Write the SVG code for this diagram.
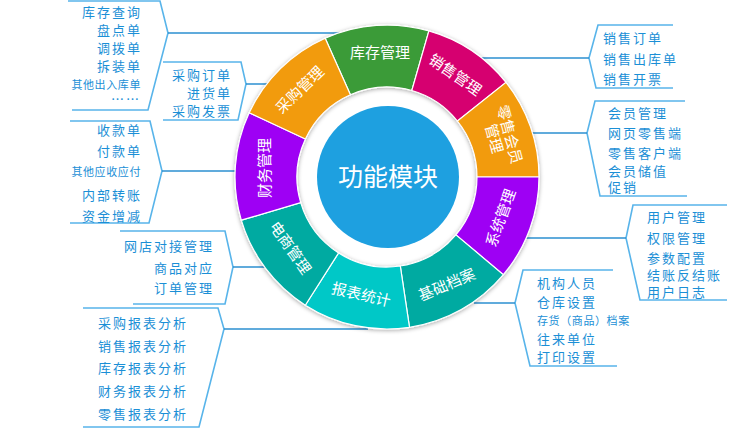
<svg xmlns="http://www.w3.org/2000/svg" width="729" height="429" viewBox="0 0 729 429">
<defs>
<style>
.seg{stroke:#fff;stroke-width:1.2}
.sl{fill:#fff;font-family:"Noto Sans CJK SC","Noto Sans",sans-serif;font-size:15px;text-anchor:middle}
.lb{fill:#1b8fd6;font-family:"Noto Sans CJK SC","Noto Sans",sans-serif;font-size:13px;letter-spacing:2px}
.sm{font-size:11px;letter-spacing:0.6px}
.e{text-anchor:end}
.br{fill:none;stroke:#58b4ea;stroke-width:1.6;stroke-linejoin:miter}
.cn{fill:none;stroke:#2b8fd0;stroke-width:1.5}
</style>
<filter id="sh" x="-10%" y="-10%" width="120%" height="120%"><feDropShadow dx="0" dy="1" stdDeviation="2" flood-color="#000" flood-opacity="0.35"/></filter>
</defs>
<rect width="729" height="429" fill="#fff"/>

<g id="connectors">
<polyline class="br" points="68,1 160,1 168,33 148,110 72,110"/>
<line class="cn" x1="168" y1="33" x2="339" y2="33"/>
<polyline class="br" points="163,62 241,62 246,84 238,120 163,120"/>
<line class="cn" x1="246" y1="84" x2="268" y2="84"/>
<polyline class="br" points="70,121 150,121 162,171 149,223 70,223"/>
<line class="cn" x1="162" y1="171" x2="236" y2="171"/>
<polyline class="br" points="120,231 225,231 233,267 225,304 133,304"/>
<line class="cn" x1="233" y1="267" x2="266" y2="267"/>
<polyline class="br" points="83,308 218,308 224,329 199,427 83,427"/>
<line class="cn" x1="224" y1="329" x2="368" y2="329"/>
<polyline class="br" points="673,25 598,25 589,58 596,88 673,88"/>
<line class="cn" x1="589" y1="58" x2="481" y2="58"/>
<polyline class="br" points="685,101 595,101 587,133 600,196 687,196"/>
<line class="cn" x1="587" y1="133" x2="531" y2="133"/>
<polyline class="br" points="727,205 633,205 626,238 640,300 727,300"/>
<line class="cn" x1="626" y1="238" x2="525" y2="238"/>
<polyline class="br" points="613,270 523,270 515,303 530,366 617,366"/>
<line class="cn" x1="515" y1="303" x2="474" y2="303"/>
</g>

<g id="ring" filter="url(#sh)">
<g id="kucun"><path class="seg" fill="#3a9b37" d="M325.2,38.2 A152,152 0 0 1 428.9,30.9 L411.8,90.5 A90,90 0 0 0 350.4,94.8 Z"/></g>
<g id="xiaoshou"><path class="seg" fill="#d6006f" d="M428.9,30.9 A152,152 0 0 1 506.0,82.4 L457.4,121.0 A90,90 0 0 0 411.8,90.5 Z"/></g>
<g id="lingshou"><path class="seg" fill="#f29b10" d="M506.0,82.4 A152,152 0 0 1 539,177 L477,177 A90,90 0 0 0 457.4,121.0 Z"/></g>
<g id="xitong"><path class="seg" fill="#9e00f4" d="M539,177 A152,152 0 0 1 503.4,274.7 L455.9,234.9 A90,90 0 0 0 477,177 Z"/></g>
<g id="jichu"><path class="seg" fill="#00aaa1" d="M503.4,274.7 A152,152 0 0 1 409.5,327.3 L400.3,266.0 A90,90 0 0 0 455.9,234.9 Z"/></g>
<g id="baobiao"><path class="seg" fill="#00c8c7" d="M409.5,327.3 A152,152 0 0 1 305.3,305.2 L338.6,252.9 A90,90 0 0 0 400.3,266.0 Z"/></g>
<g id="dianshang"><path class="seg" fill="#00aaa1" d="M305.3,305.2 A152,152 0 0 1 241.3,220.2 L300.7,202.6 A90,90 0 0 0 338.6,252.9 Z"/></g>
<g id="caiwu"><path class="seg" fill="#9e00f4" d="M241.3,220.2 A152,152 0 0 1 249.2,112.8 L305.4,139.0 A90,90 0 0 0 300.7,202.6 Z"/></g>
<g id="caigou"><path class="seg" fill="#f29b10" d="M249.2,112.8 A152,152 0 0 1 325.2,38.2 L350.4,94.8 A90,90 0 0 0 305.4,139.0 Z"/></g>
</g>

<g id="seg-labels">
<text class="sl" transform="translate(380,53)" y="5">库存管理</text>
<text class="sl" transform="translate(455,75) rotate(35)" y="5">销售管理</text>
<text class="sl" transform="translate(501.5,136.5) rotate(75)"><tspan x="0" y="-3">零售会员</tspan><tspan x="0" y="13">管理</tspan></text>
<text class="sl" transform="translate(501,218) rotate(-70)" y="5">系统管理</text>
<text class="sl" transform="translate(447,285) rotate(-23)" y="5">基础档案</text>
<text class="sl" transform="translate(361,295) rotate(13)" y="5">报表统计</text>
<text class="sl" transform="translate(290,248) rotate(55)" y="5">电商管理</text>
<text class="sl" transform="translate(265,168) rotate(-90)" y="5">财务管理</text>
<text class="sl" transform="translate(300,90) rotate(-44)" y="5">采购管理</text>
</g>

<g id="center">
<circle cx="388" cy="177" r="71" fill="#1ea0e0"/>
<text x="388" y="186" fill="#fff" font-family="Noto Sans CJK SC, Noto Sans, sans-serif" font-size="25" text-anchor="middle">功能模块</text>
</g>

<g id="list-kucun">
<text class="lb e" x="142" y="17">库存查询</text>
<text class="lb e" x="142" y="35">盘点单</text>
<text class="lb e" x="142" y="53">调拨单</text>
<text class="lb e" x="142" y="71">拆装单</text>
<text class="lb e sm" x="141" y="89">其他出入库单</text>
<text class="lb e" x="141" y="104" font-size="9" letter-spacing="0">……</text>
</g>
<g id="list-caigou">
<text class="lb e" x="232" y="80">采购订单</text>
<text class="lb e" x="232" y="98">进货单</text>
<text class="lb e" x="232" y="116">采购发票</text>
</g>
<g id="list-caiwu">
<text class="lb e" x="142" y="135">收款单</text>
<text class="lb e" x="142" y="156">付款单</text>
<text class="lb e sm" x="141" y="176">其他应收应付</text>
<text class="lb e" x="142" y="200">内部转账</text>
<text class="lb e" x="142" y="221">资金增减</text>
</g>
<g id="list-dianshang">
<text class="lb e" x="214" y="251">网店对接管理</text>
<text class="lb e" x="214" y="273">商品对应</text>
<text class="lb e" x="214" y="293">订单管理</text>
</g>
<g id="list-baobiao">
<text class="lb" x="98" y="328">采购报表分析</text>
<text class="lb" x="98" y="351">销售报表分析</text>
<text class="lb" x="98" y="373">库存报表分析</text>
<text class="lb" x="98" y="396">财务报表分析</text>
<text class="lb" x="98" y="419">零售报表分析</text>
</g>
<g id="list-xiaoshou">
<text class="lb" x="603" y="43">销售订单</text>
<text class="lb" x="603" y="64">销售出库单</text>
<text class="lb" x="603" y="84">销售开票</text>
</g>
<g id="list-lingshou">
<text class="lb" x="608" y="118">会员管理</text>
<text class="lb" x="608" y="138">网页零售端</text>
<text class="lb" x="608" y="158">零售客户端</text>
<text class="lb" x="608" y="176">会员储值</text>
<text class="lb" x="608" y="192">促销</text>
</g>
<g id="list-xitong">
<text class="lb" x="647" y="222">用户管理</text>
<text class="lb" x="647" y="243">权限管理</text>
<text class="lb" x="647" y="263">参数配置</text>
<text class="lb" x="647" y="280">结账反结账</text>
<text class="lb" x="647" y="297">用户日志</text>
</g>
<g id="list-jichu">
<text class="lb" x="537" y="288">机构人员</text>
<text class="lb" x="537" y="307">仓库设置</text>
<text class="lb sm" x="537" y="325">存货（商品）档案</text>
<text class="lb" x="537" y="344">往来单位</text>
<text class="lb" x="537" y="362">打印设置</text>
</g>
</svg>
